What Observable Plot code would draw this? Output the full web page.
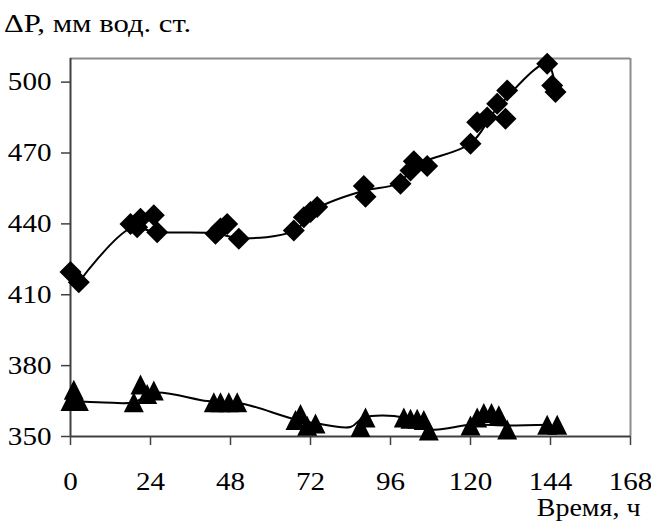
<!DOCTYPE html>
<html><head><meta charset="utf-8">
<script src="https://cdn.jsdelivr.net/npm/d3@7"></script>
<script src="https://cdn.jsdelivr.net/npm/@observablehq/plot@0.6"></script>
<style>body{margin:0;background:#fff} svg{display:block}</style>
</head><body><div id="chart"></div>
<script>
// ---- data ----
const xDomain = [0, 168];
const yDomain = [350, 510];
const xTicks = [0, 24, 48, 72, 96, 120, 144, 168];
const yTicks = [350, 380, 410, 440, 470, 500];
const titleText = "ΔP, мм вод. ст.";
const xLabelText = "Время, ч";

// upper series (diamonds)
const upperHours  = [0, 2.5, 18, 20, 21, 25, 26, 43.5, 45, 47, 50.5, 67, 70, 72, 74, 88, 88.5, 99, 102, 103, 107, 120, 122, 125, 128, 130.5, 131, 143, 144.5, 145.5];
const upperValues = [419.6, 415.3, 440, 438.6, 442.2, 443.6, 436.5, 435.8, 438, 440, 433.7, 437.2, 442.8, 445, 447.1, 456, 451.5, 457, 462.6, 466.5, 464.5, 473.9, 483, 485, 490.8, 484.5, 496.5, 507.8, 498.6, 495.8];
// upper smoothed trend line
const upperTrendHours  = [2.5, 18, 26, 43.5, 50.5, 67, 74, 88, 98, 104, 120, 128, 143, 145.5];
const upperTrendValues = [415.3, 438, 436.5, 436, 434, 437, 446.5, 454, 457, 465, 474, 489, 507.8, 497];

// lower series (triangles)
const lowerHours  = [0, 1, 2.5, 19, 21, 23, 25, 43, 45, 47.5, 50, 67.5, 69, 71, 73.5, 87, 88.5, 100, 102, 104, 106, 107.5, 120, 122, 124, 126.3, 128.5, 131, 143, 146];
const lowerValues = [365, 369.8, 365, 364.5, 372, 368, 369.5, 364.5, 364.5, 364.5, 364.5, 357, 359.5, 354.5, 355.5, 354, 358, 358, 357.5, 357.5, 357, 352.5, 354.7, 358, 360, 360, 359, 353, 355, 355];
// lower smoothed trend line
const lowerTrendHours  = [0, 10, 19, 25, 41, 47, 52, 68, 74, 84, 88, 100, 108, 120, 131, 144];
const lowerTrendValues = [365, 364.4, 364.5, 368.5, 365, 364.5, 363.8, 357, 355.5, 354, 358, 358, 353, 355, 354.7, 355];

// ---- tables ----
const upper = upperHours.map((t, i) => ({t, p: upperValues[i]}));
const upperTrend = upperTrendHours.map((t, i) => ({t, p: upperTrendValues[i]}));
const lower = lowerHours.map((t, i) => ({t, p: lowerValues[i]}));
const lowerTrend = lowerTrendHours.map((t, i) => ({t, p: lowerTrendValues[i]}));

const diamondSym = {draw(ctx, size) {const r = Math.sqrt(size / Math.PI); ctx.moveTo(0, -r); ctx.lineTo(r, 0); ctx.lineTo(0, r); ctx.lineTo(-r, 0); ctx.closePath();}};
const triangleSym = {draw(ctx, size) {const r = Math.sqrt(size / Math.PI); ctx.moveTo(0, -r); ctx.lineTo(r, r); ctx.lineTo(-r, r); ctx.closePath();}};

const plot = Plot.plot({
  width: 651, height: 522,
  marginLeft: 70, marginRight: 21, marginTop: 58, marginBottom: 86,
  style: {fontFamily: "'Liberation Serif', 'Times New Roman', serif", background: "#fff", color: "#000", overflow: "visible"},
  x: {domain: xDomain},
  y: {domain: yDomain},
  marks: [
    Plot.ruleX([xDomain[1]], {stroke: "#8c8c8c", strokeWidth: 2}),
    Plot.ruleY([yDomain[1]], {stroke: "#8c8c8c", strokeWidth: 2}),
    Plot.axisX({ticks: xTicks, tickSize: 9, tickFormat: () => "", label: null, stroke: "#404040", strokeWidth: 1.5}),
    Plot.text(xTicks, {x: d => d, y: () => yDomain[0], text: d => String(d), lineAnchor: "middle", textAnchor: "middle", dy: 45.5, fontSize: 26, fill: "#000"}),
    Plot.axisY({ticks: yTicks, tickSize: 9, tickPadding: 10, fontSize: 26, label: null, stroke: "#404040", strokeWidth: 1.5}),
    Plot.ruleX([xDomain[0]], {stroke: "#404040", strokeWidth: 2}),
    Plot.ruleY([yDomain[0]], {stroke: "#404040", strokeWidth: 2}),
    Plot.line(upperTrend, {x: "t", y: "p", curve: "catmull-rom", stroke: "#000", strokeWidth: 2}),
    Plot.line(lowerTrend, {x: "t", y: "p", curve: "catmull-rom", stroke: "#000", strokeWidth: 2}),
    Plot.dot(upper, {x: "t", y: "p", symbol: diamondSym, r: 11, fill: "#000", stroke: "none"}),
    Plot.dot(lower, {x: "t", y: "p", symbol: triangleSym, r: 10, fill: "#000", stroke: "none"}),
    Plot.text([titleText], {text: d => d, frameAnchor: "top-left", textAnchor: "start", lineAnchor: "middle", dx: -66.5, dy: -34.5, fontSize: 26, fill: "#000"}),
    Plot.text([xLabelText], {text: d => d, frameAnchor: "bottom-right", textAnchor: "end", lineAnchor: "middle", dx: 10, dy: 71, fontSize: 25, fill: "#000"})
  ]
});

// Times-like glyphs in the reference are horizontally stretched: widen text about its anchor
plot.querySelectorAll("text").forEach(t => {
  if (!t.textContent) return;
  const x = +(t.getAttribute("x") || 0);
  const tr = t.getAttribute("transform") || "";
  const s = t.textContent === titleText ? 1.18 : 1.12;
  t.setAttribute("transform", `${tr} translate(${x},0) scale(${s},1) translate(${-x},0)`);
});
document.getElementById("chart").appendChild(plot);
</script>
</body></html>
